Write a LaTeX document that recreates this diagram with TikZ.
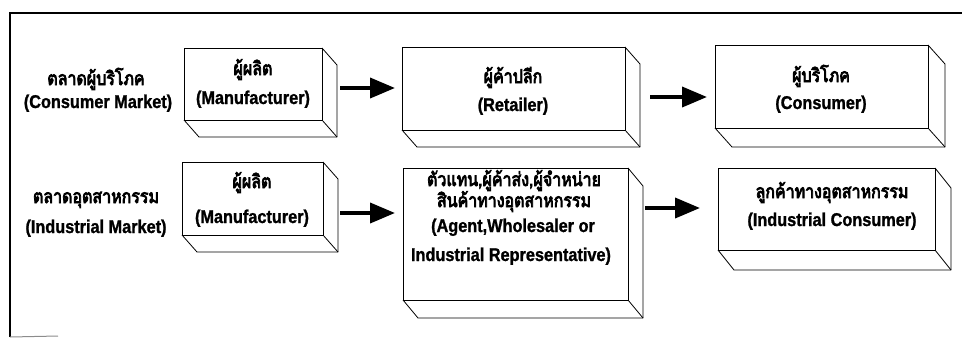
\documentclass[tikz,border=0pt]{standalone}
\usepackage{fontspec}
\setmainfont[FakeStretch=0.88, BoldFeatures={FakeBold=1.2}]{Liberation Sans}
\newfontfamily\thaifont[Script=Thai, FakeBold=4, FakeStretch=0.84]{Loma}
\usetikzlibrary{arrows.meta}
\tikzset{
  face/.style={draw, line width=0.8pt, inner sep=0pt, outer sep=0pt},
  edge/.style={line width=0.8pt, line join=round},
  en/.style={anchor=base, inner sep=0pt, font=\fontsize{18.5pt}{20pt}\selectfont\bfseries},
  th/.style={anchor=base, inner sep=0pt, font=\fontsize{19pt}{20pt}\selectfont\thaifont},
  arr/.style={line width=3.8pt, -{Triangle[length=25pt,width=20pt]}},
  frame/.style={line width=1.8pt}
}
\newcommand\cubebox[7]{%
  \node[face, minimum width=#4pt, minimum height=#5pt, anchor=north west] (#1) at (#2,#3) {};
  \draw[edge] (#1.north east) -- ++(#6,#7) -- ([shift={(#6,#7)}]#1.south east) -- ([shift={(#6,#7)}]#1.south west) -- (#1.south west);
  \draw[edge] (#1.south east) -- ++(#6,#7);
}
\begin{document}
\begin{tikzpicture}[x=1pt,y=-1pt]
\useasboundingbox (0,0) rectangle (962,338);
% frame
\coordinate (fTL) at (10,13);
\coordinate (fBL) at (10,337);
\coordinate (fTR) at (962,13);
\coordinate (fB) at (58,336);
\draw[frame] (fBL) -- (fTL) -- (fTR);
\draw[line width=1pt, black!45] (fBL) -- (fB);
% boxes
\cubebox{b1}{184}{48}{138}{72}{15}{17}
\cubebox{b2}{402}{47}{223}{83}{15}{17}
\cubebox{b3}{715}{45}{213}{83}{17}{19}
\cubebox{b4}{182}{162}{141}{73}{15}{17}
\cubebox{b5}{403}{168}{225}{132}{15}{18}
\cubebox{b6}{718}{168}{217}{82}{16}{20}
% row labels
\node[th] (l1a) at (96,85) {ตลาดผู้บริโภค};
\node[en] (l1b) at (98,108) {(Consumer Market)};
\node[th] (l2a) at (96,203) {ตลาดอุตสาหกรรม};
\node[en] (l2b) at (96,233) {(Industrial Market)};
% box texts
\node[th] (t1a) at (253,75) {ผู้ผลิต};
\node[en] (t1b) at (253,104) {(Manufacturer)};
\node[th] (t2a) at (513,83) {ผู้ค้าปลีก};
\node[en] (t2b) at (513,111) {(Retailer)};
\node[th] (t3a) at (821,82) {ผู้บริโภค};
\node[en] (t3b) at (821,109) {(Consumer)};
\node[th] (t4a) at (252,188) {ผู้ผลิต};
\node[en] (t4b) at (252,223) {(Manufacturer)};
\node[th] (t5a) at (514,186) {ตัวแทน,ผู้ค้าส่ง,ผู้จำหน่าย};
\node[th] (t5b) at (514,207) {สินค้าทางอุตสาหกรรม};
\node[en] (t5c) at (513,232) {(Agent,Wholesaler or};
\node[en] (t5d) at (511,261) {Industrial Representative)};
\node[th] (t6a) at (832,198) {ลูกค้าทางอุตสาหกรรม};
\node[en] (t6b) at (832,226) {(Industrial Consumer)};
% arrows
\coordinate (e1) at ([xshift=-7]b2.west);
\coordinate (s1) at ([shift={(18,4)}]b1.east);
\draw[arr] (s1) -- (s1 -| e1);
\coordinate (e2) at ([xshift=-8]b3.west);
\coordinate (s2) at ([shift={(25,8.5)}]b2.east);
\draw[arr] (s2) -- (s2 -| e2);
\coordinate (e3) at ([xshift=-8]b5.west);
\coordinate (s3) at ([shift={(17,14.5)}]b4.east);
\draw[arr] (s3) -- (s3 -| e3);
\coordinate (e4) at ([xshift=-18]b6.west);
\coordinate (s4) at ([shift={(17,-26)}]b5.east);
\draw[arr] (s4) -- (s4 -| e4);
\end{tikzpicture}
\end{document}
